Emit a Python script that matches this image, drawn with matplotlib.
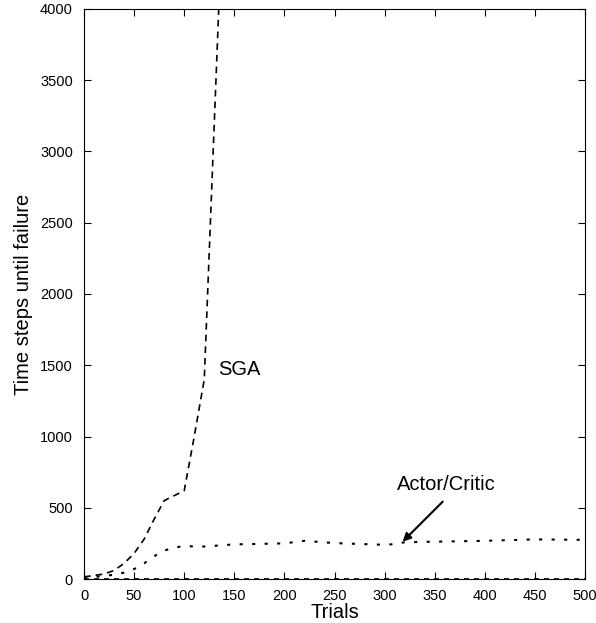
import matplotlib
matplotlib.use("Agg")
import matplotlib.pyplot as plt

plt.rcParams['font.family'] = ['Liberation Sans', 'DejaVu Sans']

# SGA learning curve (clipped at top of axes)
sga_trials = [0, 10, 20, 30, 40, 50, 60, 70, 80, 90, 100, 110, 120, 135]
sga_steps = [15, 25, 35, 60, 110, 180, 280, 420, 550, 585, 620, 1000, 1400, 4100]

# Actor/Critic learning curve
ac_trials = [0, 10, 20, 30, 40, 50, 60, 70, 80, 90, 100, 110, 120, 150, 200,
             220, 250, 300, 310, 320, 350, 400, 450, 500]
ac_steps = [10, 15, 22, 30, 45, 70, 110, 160, 200, 220, 232, 228, 228, 243, 250,
            268, 252, 240, 245, 258, 262, 268, 278, 275]

# third run that never balances
zero_trials = [0, 500]
zero_steps = [0, 0]

fig = plt.figure(figsize=(5.96, 6.23), dpi=100)
ax = fig.add_axes([0.141, 0.0706, 0.8405, 0.915])

ax.plot(sga_trials, sga_steps, color='black', linestyle=(0, (4, 3)), linewidth=1.2)
ax.plot(ac_trials, ac_steps, color='black', linestyle=(0, (1.5, 4.5)), linewidth=1.5)
ax.plot(zero_trials, zero_steps, color='black', linestyle=(0, (3, 3)), linewidth=1.2,
        clip_on=False)

ax.set_xlim(0, 500)
ax.set_ylim(0, 4000)
ax.set_xticks(range(0, 501, 50))
ax.set_yticks(range(0, 4001, 500))
ax.tick_params(direction='in', top=True, right=True, labelsize=10.5, length=5,
               width=0.8)
ax.tick_params(axis='y', pad=8)
ax.tick_params(axis='x', pad=7)
for s in ax.spines.values():
    s.set_linewidth(0.8)

ax.set_xlabel('Trials', fontsize=14.5, labelpad=0)
ax.set_ylabel('Time steps until failure', fontsize=14.5, labelpad=5)

ax.text(134, 1470, 'SGA', fontsize=14.5, va='center', ha='left')
ax.text(362, 660, 'Actor/Critic', fontsize=14.5, va='center', ha='center')
ax.annotate('', xy=(318, 262), xytext=(358, 543),
            arrowprops=dict(arrowstyle='-|>', color='black', lw=1.5,
                            mutation_scale=12, shrinkA=0, shrinkB=0))

fig.savefig('out.png', dpi=100)
